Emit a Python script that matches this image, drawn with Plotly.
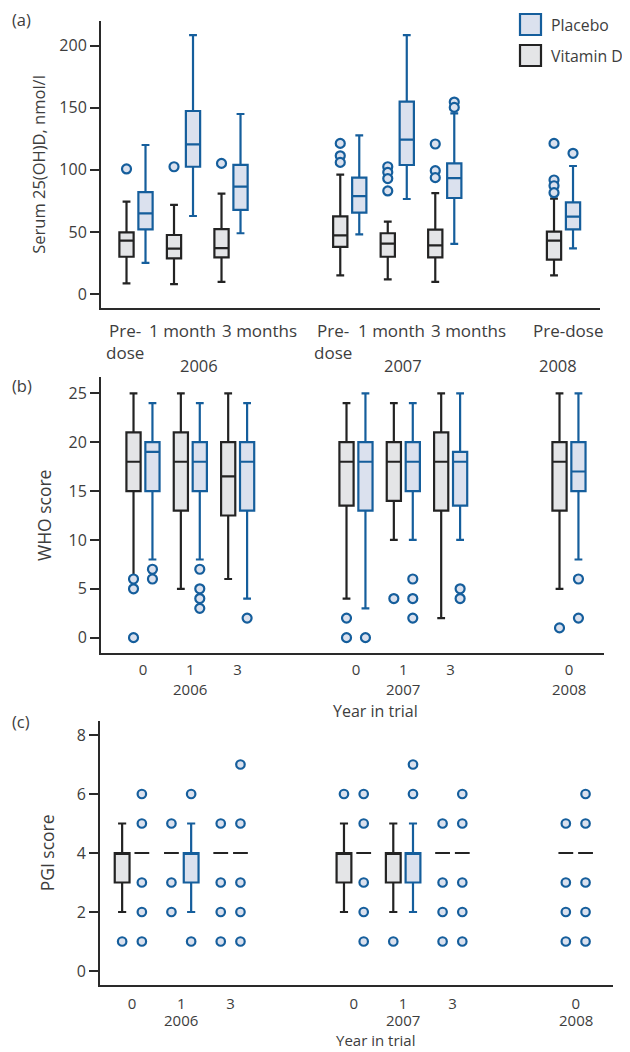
import plotly.graph_objects as go

# ---------------- data ----------------
groups = ["2006 pre", "2006 1m", "2006 3m", "2007 pre", "2007 1m", "2007 3m", "2008 pre"]
group_pos = [0, 1, 2, 4.5, 5.5, 6.5, 9]

# Panel (a): Serum 25(OH)D, nmol/l
a_vitd_q1 = [30, 28.7, 29.5, 37.9, 30, 29.5, 27.7]
a_vitd_med = [43, 36.5, 37, 47.2, 40.5, 39.2, 43]
a_vitd_q3 = [49.7, 47.5, 52.3, 62.5, 48.9, 51.8, 50.2]
a_vitd_lo = [8.6, 8, 9.7, 15, 11.8, 9.7, 15]
a_vitd_hi = [74.4, 71.7, 80.8, 96.1, 58.3, 81.3, 76.8]
a_plac_q1 = [52, 102.5, 67.7, 65.5, 103.9, 77.3, 52.1]
a_plac_med = [65, 120.5, 86.4, 78.9, 124.3, 93.4, 62.3]
a_plac_q3 = [82, 147.4, 104, 93.7, 154.9, 105.2, 73.8]
a_plac_lo = [25, 62.8, 48.9, 48, 76.5, 40.3, 36.8]
a_plac_hi = [120, 208.6, 145, 127.8, 208.6, 145.5, 103.1]
a_vitd_out = [[100.7], [102.5], [105.2], [121.3, 111.3, 106], [102.5, 98, 93, 83],
              [120.8, 99.3, 93.7], [121.3, 91.8, 87.2, 81.6]]
a_plac_out = [[], [], [], [], [], [154.6, 150.3], [113.3]]
a_tick_labels = ["Pre-<br>dose", "1 month", "3 months", "Pre-<br>dose", "1 month", "3 months", "Pre-dose"]
year_labels = ["2006", "2007", "2008"]

# Panel (b): WHO score
b_vitd_q1 = [15, 13, 12.5, 13.5, 14, 13, 13]
b_vitd_med = [18, 18, 16.5, 18, 18, 18, 18]
b_vitd_q3 = [21, 21, 20, 20, 20, 21, 20]
b_vitd_lo = [6, 5, 6, 4, 10, 2, 5]
b_vitd_hi = [25, 25, 25, 24, 24, 25, 25]
b_plac_q1 = [15, 15, 13, 13, 15, 13.5, 15]
b_plac_med = [19, 18, 18, 18, 18, 18, 17]
b_plac_q3 = [20, 20, 20, 20, 20, 19, 20]
b_plac_lo = [8, 8, 4, 3, 10, 10, 8]
b_plac_hi = [24, 24, 24, 25, 24, 25, 25]
b_vitd_out = [[6, 5, 0], [], [], [2, 0], [4], [], [1]]
b_plac_out = [[7, 6], [7, 5, 4, 3], [2], [0], [6, 4, 2], [5, 4], [6, 2]]

# Panel (c): PGI score
c_vitd_q1 = [3, 4, 4, 3, 3, 4, 4]
c_vitd_med = [4, 4, 4, 4, 4, 4, 4]
c_vitd_q3 = [4, 4, 4, 4, 4, 4, 4]
c_vitd_lo = [2, 4, 4, 2, 2, 4, 4]
c_vitd_hi = [5, 4, 4, 5, 5, 4, 4]
c_plac_q1 = [4, 3, 4, 4, 3, 4, 4]
c_plac_med = [4, 4, 4, 4, 4, 4, 4]
c_plac_q3 = [4, 4, 4, 4, 4, 4, 4]
c_plac_lo = [4, 2, 4, 4, 2, 4, 4]
c_plac_hi = [4, 5, 4, 4, 5, 4, 4]
c_vitd_out = [[1], [5, 3, 2], [5, 3, 2, 1], [6], [1], [5, 3, 2, 1], [5, 3, 2, 1]]
c_plac_out = [[6, 5, 3, 2, 1], [6, 1], [7, 5, 3, 2, 1], [6, 5, 3, 2, 1], [7, 6],
              [6, 5, 3, 2, 1], [6, 5, 3, 2, 1]]

bc_tick_labels = ["0", "1", "3", "0", "1", "3", "0"]
legend_names = ["Placebo", "Vitamin D"]

# ---------------- style ----------------
FONT = "Open Sans"
TXT = "#3d3d3d"
BLUE = "#155e9c"
BLUE_FILL = "#dbe1ee"
DARK = "#232323"
GREY_FILL = "#e4e5e7"
OFF = 0.2
BW = 0.3

fig = go.Figure()


def add_boxes(xa, ya, pos, q1, med, q3, lo, hi, color, fill):
    fig.add_trace(go.Box(
        x=pos, q1=q1, median=med, q3=q3, lowerfence=lo, upperfence=hi,
        xaxis=xa, yaxis=ya, width=BW, whiskerwidth=0.55,
        fillcolor=fill, line=dict(color=color, width=2.2),
        boxpoints=False, hoverinfo="skip", showlegend=False,
    ))


def add_outliers(xa, ya, off, outs, size=9):
    xs, ys = [], []
    for g, vals in zip(group_pos, outs):
        for v in vals:
            xs.append(g + off)
            ys.append(v)
    fig.add_trace(go.Scatter(
        x=xs, y=ys, mode="markers", xaxis=xa, yaxis=ya, showlegend=False,
        hoverinfo="skip",
        marker=dict(symbol="circle", size=size, color=BLUE_FILL,
                    line=dict(color=BLUE, width=2.2)),
    ))


vit_pos = [g - OFF for g in group_pos]
pla_pos = [g + OFF for g in group_pos]

# panel a
add_boxes("x", "y", pla_pos, a_plac_q1, a_plac_med, a_plac_q3, a_plac_lo, a_plac_hi, BLUE, BLUE_FILL)
add_boxes("x", "y", vit_pos, a_vitd_q1, a_vitd_med, a_vitd_q3, a_vitd_lo, a_vitd_hi, DARK, GREY_FILL)
add_outliers("x", "y", -OFF, a_vitd_out)
add_outliers("x", "y", OFF, a_plac_out)

# panel b
add_boxes("x2", "y2", vit_pos, b_vitd_q1, b_vitd_med, b_vitd_q3, b_vitd_lo, b_vitd_hi, DARK, GREY_FILL)
add_boxes("x2", "y2", pla_pos, b_plac_q1, b_plac_med, b_plac_q3, b_plac_lo, b_plac_hi, BLUE, BLUE_FILL)
add_outliers("x2", "y2", -OFF, b_vitd_out)
add_outliers("x2", "y2", OFF, b_plac_out)


# panel c: split genuine boxes (q1<q3) from degenerate median-only dashes
def split(pos, q1, med, q3, lo, hi):
    real = [i for i in range(len(pos)) if q1[i] < q3[i]]
    flat = [i for i in range(len(pos)) if q1[i] >= q3[i]]
    pick = lambda arr, idx: [arr[i] for i in idx]
    return ([pick(a, real) for a in (pos, q1, med, q3, lo, hi)],
            [pick(a, flat) for a in (pos, q1, med, q3, lo, hi)])


vr, vf = split(vit_pos, c_vitd_q1, c_vitd_med, c_vitd_q3, c_vitd_lo, c_vitd_hi)
pr, pf = split(pla_pos, c_plac_q1, c_plac_med, c_plac_q3, c_plac_lo, c_plac_hi)
add_boxes("x3", "y3", *vr, DARK, GREY_FILL)
add_boxes("x3", "y3", *pr, BLUE, BLUE_FILL)
add_boxes("x3", "y3", *[a + b for a, b in zip(vf, pf)], DARK, GREY_FILL)
add_outliers("x3", "y3", -OFF, c_vitd_out, 8.5)
add_outliers("x3", "y3", OFF, c_plac_out, 8.5)

# page body has an 8px margin -> compensate so positions match the 630x1052 window
M = 8
W, H = 630 - M, 1052 - M
px = lambda v: (v - M) / W
py = lambda v: 1 - (v - M) / H

axis_common = dict(showgrid=False, zeroline=False, showline=True, linecolor="#2a2a2a",
                   linewidth=2, tickfont=dict(size=16, color=TXT, family=FONT))
xtick_font = dict(size=15, color=TXT, family=FONT)

fig.update_layout(
    width=W, height=H, margin=dict(l=0, r=0, t=0, b=0),
    paper_bgcolor="white", plot_bgcolor="white",
    font=dict(family=FONT, color=TXT, size=16),
    showlegend=False,
    xaxis=dict(domain=[px(101), px(600)], range=[-0.737, 9.768], anchor="y",
               showticklabels=False, ticks="", **axis_common),
    yaxis=dict(domain=[py(308), py(21)], range=[-11.3, 219.9], anchor="x",
               tickvals=[0, 50, 100, 150, 200], ticks="outside", ticklen=9,
               tickwidth=1.5, tickcolor="#2a2a2a",
               title=dict(text="Serum 25(OH)D, nmol/l", font=dict(size=16.5, color=TXT), standoff=10),
               **axis_common),
    xaxis2=dict(domain=[px(101), px(604)], range=[-0.887, 9.74], anchor="y2",
                tickvals=group_pos, ticktext=bc_tick_labels, ticks="outside",
                ticklen=2, tickcolor="rgba(0,0,0,0)",
                **{**axis_common, "tickfont": xtick_font}),
    yaxis2=dict(domain=[py(653.3), py(377.3)], range=[-1.6, 26.64], anchor="x2",
                tickvals=[0, 5, 10, 15, 20, 25], ticks="outside", ticklen=9,
                tickwidth=1.5, tickcolor="#2a2a2a",
                title=dict(text="WHO score", font=dict(size=17.5, color=TXT), standoff=12),
                **axis_common),
    xaxis3=dict(domain=[px(100), px(613)], range=[-0.649, 9.757], anchor="y3",
                tickvals=group_pos, ticktext=bc_tick_labels, ticks="outside",
                ticklen=4, tickcolor="rgba(0,0,0,0)",
                **{**axis_common, "tickfont": xtick_font}),
    yaxis3=dict(domain=[py(985), py(720.7)], range=[-0.475, 8.485], anchor="x3",
                tickvals=[0, 2, 4, 6, 8], ticks="outside", ticklen=9,
                tickwidth=1.5, tickcolor="#2a2a2a",
                title=dict(text="PGI score", font=dict(size=17.5, color=TXT), standoff=18),
                **axis_common),
)

ann = []
shapes = []
# legend keys (drawn in paper space)
leg_style = [(BLUE, BLUE_FILL), (DARK, GREY_FILL)]
for k, (name, (lc, fc)) in enumerate(zip(legend_names, leg_style)):
    top = 14 + k * 31
    shapes.append(dict(type="rect", xref="paper", yref="paper",
                       x0=px(520), x1=px(541), y0=py(top + 21), y1=py(top),
                       line=dict(color=lc, width=2.2), fillcolor=fc))
    ann.append(dict(text=name, x=px(549), y=py(top + 11), xref="paper", yref="paper",
                    xanchor="left", yanchor="middle", showarrow=False,
                    font=dict(size=15.8, color=TXT)))
# panel letters
for lab, yy in (("(a)", 20), ("(b)", 385), ("(c)", 721)):
    ann.append(dict(text=lab, x=px(10), y=py(yy), xref="paper", yref="paper",
                    xanchor="left", yanchor="middle", showarrow=False,
                    font=dict(size=16.5, color=TXT)))
# panel a category labels
a_label_shift = [-0.23, -0.03, 0.6, -0.35, -0.12, 0.5, 0.09]
for g, s, lab in zip(group_pos, a_label_shift, a_tick_labels):
    ann.append(dict(text=lab, x=g + s, y=py(317), xref="x", yref="paper",
                    xanchor="center", yanchor="top", showarrow=False, align="center",
                    font=dict(size=17, color=TXT)))
a_year_x = [1.33, 5.62, 8.88]
for xx, lab in zip(a_year_x, year_labels):
    ann.append(dict(text=lab, x=xx, y=py(365), xref="x", yref="paper",
                    xanchor="center", yanchor="middle", showarrow=False,
                    font=dict(size=16.5, color=TXT)))
# year labels under panels b and c (below the middle tick of each year)
year_groups = [1, 4, 6]
for xa, yy in (("x2", 689), ("x3", 1020)):
    for gi, lab in zip(year_groups, year_labels):
        ann.append(dict(text=lab, x=group_pos[gi], y=py(yy), xref=xa, yref="paper",
                        xanchor="center", yanchor="middle", showarrow=False,
                        font=dict(size=15, color=TXT)))
for yy, fs in ((711, 16), (1039.5, 15)):
    ann.append(dict(text="Year in trial", x=px(375), y=py(yy), xref="paper", yref="paper",
                    xanchor="center", yanchor="middle", showarrow=False,
                    font=dict(size=fs, color=TXT)))
fig.update_layout(annotations=ann, shapes=shapes)

fig.write_html("out.html")
